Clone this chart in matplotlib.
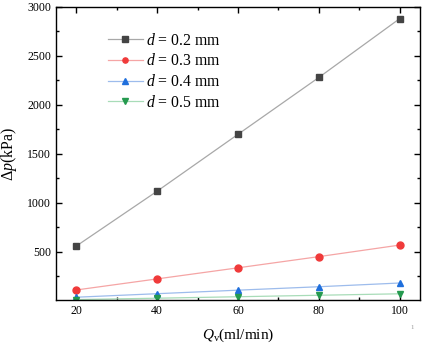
import numpy as np
import matplotlib.pyplot as plt
from matplotlib.ticker import MultipleLocator

plt.rcParams["font.family"] = ["Liberation Serif", "DejaVu Serif"]
plt.rcParams["mathtext.fontset"] = "custom"
plt.rcParams["mathtext.it"] = "Liberation Serif:italic"
plt.rcParams["mathtext.rm"] = "Liberation Serif"

# data
flow = [20, 40, 60, 80, 100]
dp_02 = [560, 1120, 1700, 2280, 2880]
dp_03 = [112, 225, 338, 452, 570]
dp_04 = [38, 74, 110, 145, 183]
dp_05 = [14, 28, 43, 58, 73]
labels = ["0.2", "0.3", "0.4", "0.5"]

series = [dp_02, dp_03, dp_04, dp_05]
markers = ["s", "o", "^", "v"]
marker_colors = ["#444444", "#f03a3a", "#1f6fdc", "#259a4f"]
line_colors = ["#a8a8a8", "#f5a5a5", "#9dbcec", "#a8dcb8"]

fig = plt.figure(figsize=(4.25, 3.44), dpi=100)
ax = fig.add_axes([0.132, 0.128, 0.856, 0.852])

for y, m, mc, lc, lab in zip(series, markers, marker_colors, line_colors, labels):
    ax.plot(flow, y, color=lc, lw=0.9, marker=m, ms=5,
            markerfacecolor=mc, markeredgecolor=mc,
            label=r"$d$ = " + lab + " mm")

ax.set_xlim(15, 105)
ax.set_ylim(10, 3000)
ax.xaxis.set_major_locator(MultipleLocator(20))
ax.xaxis.set_minor_locator(MultipleLocator(10))
ax.yaxis.set_major_locator(MultipleLocator(500))
ax.yaxis.set_minor_locator(MultipleLocator(250))
ax.tick_params(which="both", direction="in", top=True, right=True,
               labelsize=8.5, width=1.0)
ax.tick_params(which="major", length=4)
ax.tick_params(which="minor", length=2.5)
for s in ax.spines.values():
    s.set_linewidth(1.0)

ax.set_xlabel(r"$Q_{\rm v}$(ml/min)", fontsize=11, labelpad=7)
ax.set_ylabel(r"$\Delta p$(kPa)", fontsize=11.5, labelpad=6)

ax.legend(loc="upper left", bbox_to_anchor=(0.143, 0.912), frameon=False,
          borderaxespad=0, borderpad=0,
          fontsize=11.3, handlelength=2.2, handletextpad=0.2,
          labelspacing=0.3, markerscale=0.75)

fig.text(0.965, 0.045, "1", fontsize=5, color="#999999")

fig.savefig("out.png", dpi=100)
